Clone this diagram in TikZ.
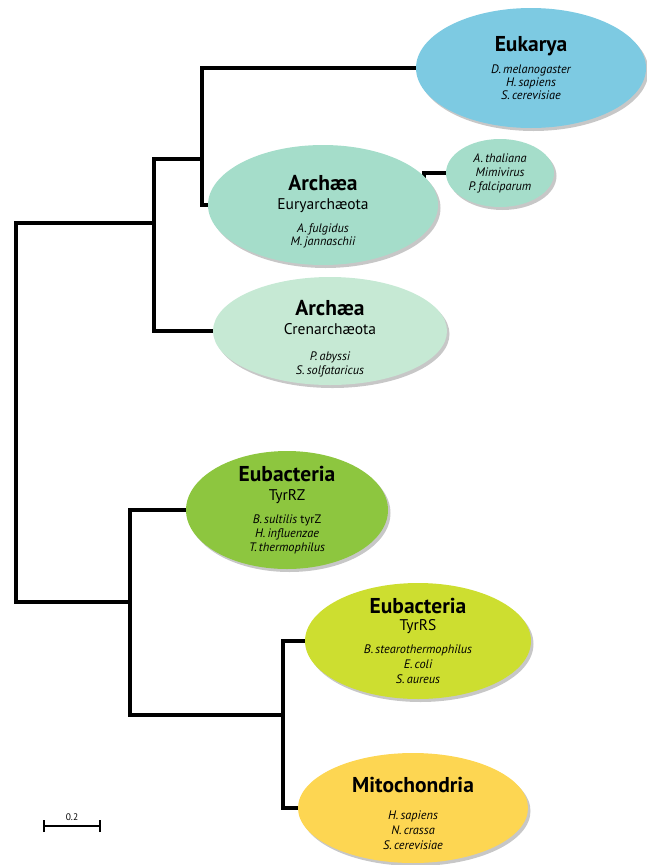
\documentclass[tikz,border=0pt]{standalone}
\usepackage{fontspec}
\setmainfont{PT Sans}
\usetikzlibrary{shapes.geometric,shadows}
\pgfdeclarelayer{bg}
\pgfsetlayers{bg,main}
\definecolor{cEuk}{RGB}{125,202,226}
\definecolor{cEury}{RGB}{165,221,202}
\definecolor{cCren}{RGB}{198,233,212}
\definecolor{cRZ}{RGB}{141,198,63}
\definecolor{cRS}{RGB}{205,222,48}
\definecolor{cMito}{RGB}{253,214,82}
\newcommand{\ttl}{\fontsize{21.5}{22}\selectfont\upshape\bfseries}
\newcommand{\sbt}{\fontsize{15.5}{16}\selectfont\upshape}
\newcommand{\lift}[1]{\rule{0pt}{#1}}
\tikzset{
  ell/.style={ellipse, inner sep=0pt,
    drop shadow={fill=black, opacity=0.22, shadow xshift=2.5pt, shadow yshift=-3pt}},
  txt/.style={inner sep=0pt, align=center, font=\fontsize{12.3}{13}\selectfont\itshape},
  br/.style={line width=3.2pt, black, line cap=rect, line join=miter},
  bar/.style={line width=2pt, black}
}
\begin{document}
\begin{tikzpicture}[x=1pt,y=-1pt]
\useasboundingbox (0,0) rectangle (647,865);
% ellipses
\node[ell, fill=cEuk, minimum width=230, minimum height=120] (euk) at (531,68) {};
\node[ell, fill=cEury, minimum width=108, minimum height=68] (oth) at (500,173) {};
\node[ell, fill=cEury, minimum width=230, minimum height=120] (eury) at (323,205) {};
\node[ell, fill=cCren, minimum width=234, minimum height=108] (cren) at (330,331) {};
\node[ell, fill=cRZ, minimum width=202, minimum height=118] (rz) at (287,510) {};
\node[ell, fill=cRS, minimum width=226, minimum height=116] (rs) at (418,641) {};
\node[ell, fill=cMito, minimum width=230, minimum height=110] (mito) at (413,808) {};
% texts
\node[txt] (teuk) at (euk.center)
  {{\ttl Eukarya}\\[8pt] D.\,melanogaster\\ H.\,sapiens\\ S.\,cerevisiae};
\node[txt] (toth) at (oth.center)
  {A.\,thaliana\\[1pt] Mimivirus\\[1pt] P.\,falciparum};
\node[txt] (teury) at (eury.center)
  {{\ttl\lift{28pt}Archæa}\\[6pt] {\sbt Euryarchæota}\\[10pt] A.\,fulgidus\\ M.\,jannaschii};
\node[txt] (tcren) at (cren.center)
  {{\ttl\lift{30pt}Archæa}\\[6pt] {\sbt Crenarchæota}\\[13pt] P.\,abyssi\\[1pt] S.\,solfataricus};
\node[txt] (trz) at (rz.center)
  {{\ttl Eubacteria}\\[6pt] {\sbt TyrRZ}\\[10pt] B.\,sultilis {\upshape tyrZ}\\[1pt] H.\,influenzae\\[1pt] T.\,thermophilus};
\node[txt] (trs) at (rs.center)
  {{\ttl Eubacteria}\\[4pt] {\sbt TyrRS}\\[10pt] B.\,stearothermophilus\\[2pt] E.\,coli\\[2pt] S.\,aureus};
\node[txt] (tmito) at (mito.center)
  {{\ttl\lift{26pt}Mitochondria}\\[14pt] H.\,sapiens\\[2pt] N.\,crassa\\[2pt] S.\,cerevisiae};
% branch points
\coordinate (n1) at (202,159);
\coordinate (n2) at (154,223);
\coordinate (n0) at (16,602);
\coordinate (n3) at (130,602);
\coordinate (n4) at (283,715);
\coordinate (n5) at (424,195);
\begin{pgfonlayer}{bg}
\draw[br] (euk.west) -| (n1) |- (eury.west);
\draw[br] (n1) -| (n2) |- (cren.west);
\draw[br] (n2) -| (n0) -- (n3);
\draw[br] (rz.west) -| (n3) |- (n4);
\draw[br] (rs.west) -| (n4) |- (mito.west);
\draw[br] (oth.west) -| (n5);
\end{pgfonlayer}
% scale bar
\coordinate (s1) at (44,826);
\coordinate (s2) at (100,826);
\draw[bar] (s1) -- (s2);
\draw[bar] ([yshift=-6pt]s1) -- ([yshift=6pt]s1);
\draw[bar] ([yshift=-6pt]s2) -- ([yshift=6pt]s2);
\node[font=\fontsize{9.5}{10}\selectfont, inner sep=0pt, anchor=base] (sl) at (72,820) {0.2};
\end{tikzpicture}
\end{document}
